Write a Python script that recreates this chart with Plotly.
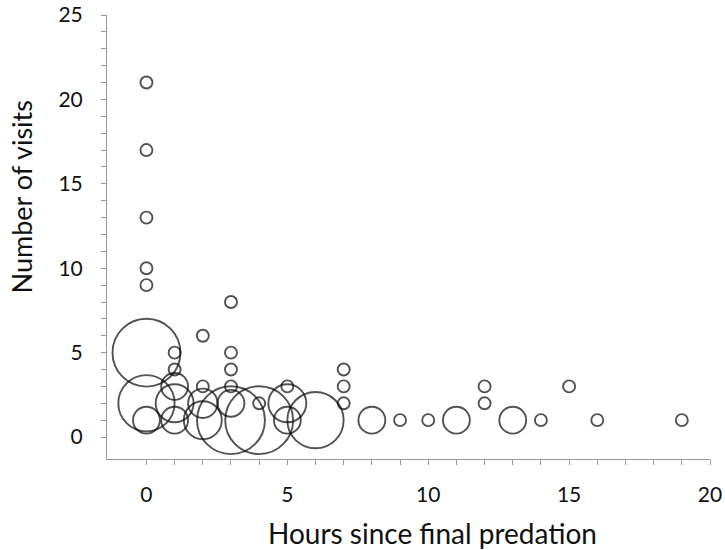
import plotly.graph_objects as go

# Hours since final predation (x), number of visits (y), and frequency (bubble weight)
hours = [0, 0, 0, 0, 0, 0, 0, 0,
         1, 1, 1, 1, 1,
         2, 2, 2, 2,
         3, 3, 3, 3, 3, 3,
         4, 4,
         5, 5, 5,
         6,
         7, 7, 7,
         8, 9, 10, 11,
         12, 12,
         13, 14, 15, 16, 19]
visits = [21, 17, 13, 10, 9, 5, 2, 1,
          5, 4, 3, 2, 1,
          6, 3, 2, 1,
          8, 5, 4, 3, 2, 1,
          2, 1,
          3, 2, 1,
          1,
          4, 3, 2,
          1, 1, 1, 1,
          3, 2,
          1, 1, 3, 1, 1]
counts = [1, 1, 1, 1, 1, 32, 22, 5,
          1, 1, 5, 10, 5,
          1, 1, 6, 10,
          1, 1, 1, 1, 5, 32,
          1, 32,
          1, 10, 5,
          22,
          1, 1, 1,
          5, 1, 1, 5,
          1, 1,
          5, 1, 1, 1, 1]

x_ticks = [0, 5, 10, 15, 20]
y_ticks = [0, 5, 10, 15, 20, 25]

FONT = "Lato"
AXIS_GRAY = "#9a9a9a"
TEXT = "#111111"

fig = go.Figure()
fig.add_trace(go.Scatter(
    x=hours, y=visits, mode="markers",
    marker=dict(size=counts, sizemode="area", sizeref=1 / 72.0,
                color="rgba(0,0,0,0)",
                line=dict(color="#0a0a0a", width=1.9)),
    showlegend=False, hoverinfo="x+y",
))

fig.update_layout(
    width=725, height=550,
    margin=dict(l=107, r=15, t=15, b=91, autoexpand=False),
    paper_bgcolor="white", plot_bgcolor="white",
    font=dict(family=FONT, color=TEXT),
    xaxis=dict(
        range=[-1.4, 20], tickmode="array", tickvals=x_ticks,
        automargin=False,
        ticks="outside", ticklen=5, tickcolor=AXIS_GRAY, tickwidth=1,
        minor=dict(tickmode="array", tickvals=list(range(0, 21)),
                   ticks="outside", ticklen=5, tickcolor=AXIS_GRAY),
        showline=True, linecolor=AXIS_GRAY, linewidth=1,
        showgrid=False, zeroline=False,
        tickfont=dict(size=21, family=FONT, color=TEXT),
        ticklabelstandoff=12,
    ),
    yaxis=dict(
        range=[-1.3, 25], tickmode="array", tickvals=y_ticks,
        automargin=False,
        ticks="outside", ticklen=5, tickcolor=AXIS_GRAY, tickwidth=1,
        minor=dict(tickmode="array", tickvals=list(range(0, 26)),
                   ticks="outside", ticklen=5, tickcolor=AXIS_GRAY),
        showline=True, linecolor=AXIS_GRAY, linewidth=1,
        showgrid=False, zeroline=False,
        tickfont=dict(size=21, family=FONT, color=TEXT),
        ticklabelstandoff=14,
    ),
    annotations=[
        dict(text="Number of visits", textangle=-90,
             xref="paper", yref="paper", x=-0.142, y=0.59,
             xanchor="center", yanchor="middle", showarrow=False,
             font=dict(size=27, family=FONT, color=TEXT)),
        dict(text="Hours since final predation",
             xref="paper", yref="paper", x=0.54, y=-0.167,
             xanchor="center", yanchor="middle", showarrow=False,
             font=dict(size=28, family=FONT, color=TEXT)),
    ],
)

fig.write_html(
    "out.html",
    config={"displayModeBar": False},
    post_script="document.body.style.margin='0px';document.body.style.overflow='hidden';",
)
